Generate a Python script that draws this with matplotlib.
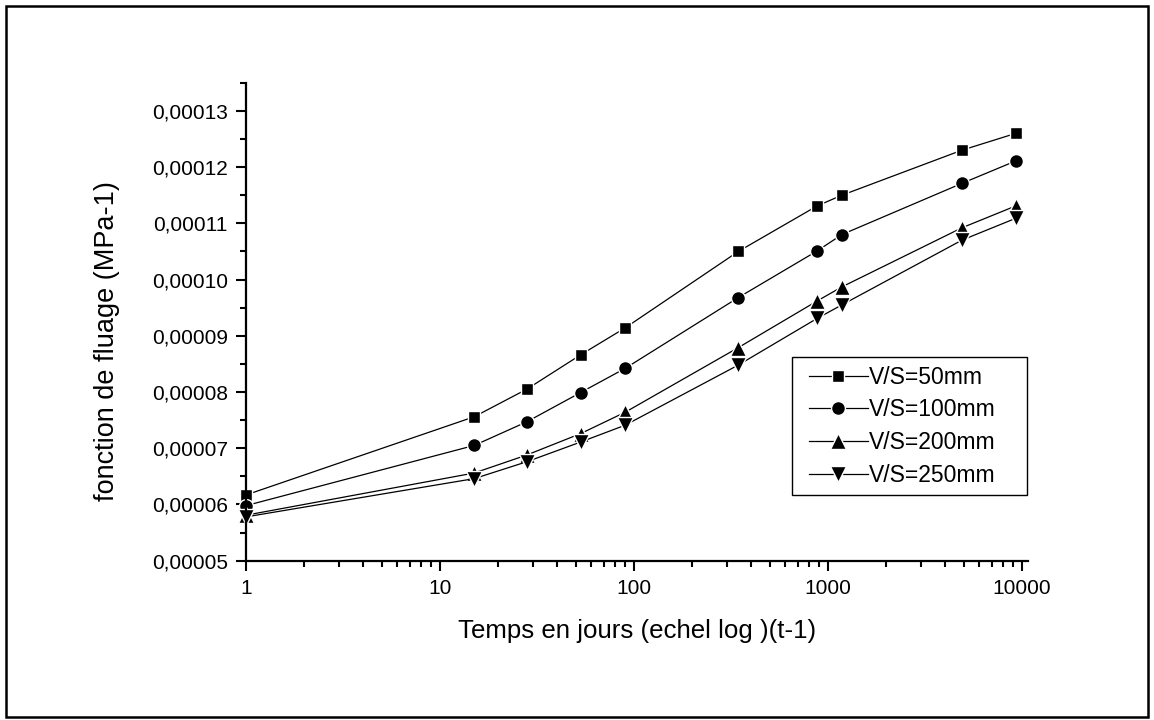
import matplotlib
matplotlib.use("Agg")
import matplotlib.pyplot as plt
from matplotlib.legend_handler import HandlerLine2D
from matplotlib.patches import Rectangle
from matplotlib.ticker import FuncFormatter, LogLocator, MultipleLocator, NullFormatter

plt.rcParams['font.family'] = ['Liberation Sans', 'DejaVu Sans']

# temps en jours (t-1)
jours = [1, 15, 28, 53, 90, 345, 880, 1180, 4900, 9300]

vs50 = [6.17e-5, 7.56e-5, 8.05e-5, 8.66e-5, 9.14e-5, 1.050e-4, 1.131e-4, 1.150e-4, 1.230e-4, 1.260e-4]
vs100 = [5.98e-5, 7.05e-5, 7.47e-5, 7.99e-5, 8.42e-5, 9.68e-5, 1.051e-4, 1.080e-4, 1.171e-4, 1.211e-4]
vs200 = [5.81e-5, 6.56e-5, 6.88e-5, 7.26e-5, 7.64e-5, 8.79e-5, 9.62e-5, 9.87e-5, 1.092e-4, 1.131e-4]
vs250 = [5.78e-5, 6.46e-5, 6.76e-5, 7.11e-5, 7.41e-5, 8.48e-5, 9.31e-5, 9.55e-5, 1.070e-4, 1.109e-4]

series = [
    (vs50, 's', 9, 'V/S=50mm'),
    (vs100, 'o', 10, 'V/S=100mm'),
    (vs200, '^', 11, 'V/S=200mm'),
    (vs250, 'v', 11, 'V/S=250mm'),
]

fig = plt.figure(figsize=(11.54, 7.2), dpi=100)
ax = fig.add_axes([0.2132, 0.2212, 0.6776, 0.6639])

lines = []
for vals, mk, ms, lab in series:
    ln, = ax.plot(jours, vals, color='black', linewidth=0.9, marker=mk, markersize=ms,
                  markerfacecolor='black', markeredgecolor='white', markeredgewidth=1.0,
                  label=lab, clip_on=False)
    lines.append(ln)

ax.set_xscale('log')
ax.set_xlim(1, 10740)
ax.set_ylim(0.00005, 0.000135)

ax.xaxis.set_major_locator(LogLocator(base=10, numticks=10))
ax.xaxis.set_minor_locator(LogLocator(base=10, subs=range(2, 10), numticks=50))
ax.xaxis.set_minor_formatter(NullFormatter())
ax.xaxis.set_major_formatter(FuncFormatter(lambda v, p: f"{v:.0f}"))

ax.yaxis.set_major_locator(MultipleLocator(0.00001))
ax.yaxis.set_minor_locator(MultipleLocator(0.000005))
ax.yaxis.set_major_formatter(FuncFormatter(lambda v, p: f"{v:.5f}".replace('.', ',')))

ax.spines['top'].set_visible(False)
ax.spines['right'].set_visible(False)
ax.spines['left'].set_linewidth(1.6)
ax.spines['bottom'].set_linewidth(1.6)
ax.tick_params(which='major', direction='out', length=7, width=1.5, labelsize=15, pad=6)
ax.tick_params(which='minor', direction='out', length=4, width=1.5)

ax.set_xlabel('Temps en jours (echel log )(t-1)', fontsize=18.6, labelpad=15)
ax.set_ylabel('fonction de fluage (MPa-1)', fontsize=19.5)
ax.yaxis.set_label_coords(-0.161, 0.46)

leg = ax.legend(loc='upper left', bbox_to_anchor=(0.698, 0.142, 0.301, 0.284),
                mode='expand', borderaxespad=0,
                fontsize=16.5, frameon=True, fancybox=False, framealpha=1,
                edgecolor='black', handlelength=2.95, handletextpad=0.05,
                labelspacing=0.42, borderpad=0.38,
                handler_map={ln: HandlerLine2D(xpad=0.35) for ln in lines})
leg.get_frame().set_linewidth(1.0)

# cadre autour de la figure
fig.patches.append(Rectangle((0.005, 0.004), 0.99, 0.988, transform=fig.transFigure,
                             fill=False, edgecolor='black', linewidth=1.8))

fig.savefig('out.png', dpi=100)
